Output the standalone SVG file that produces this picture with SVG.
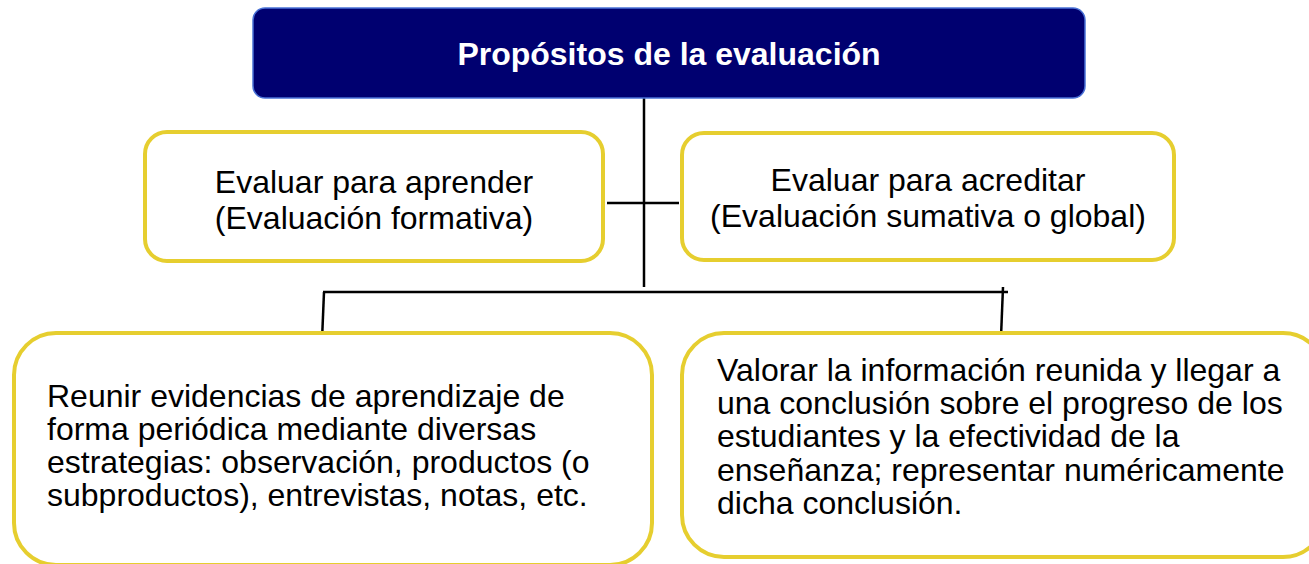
<svg xmlns="http://www.w3.org/2000/svg" width="1309" height="564" viewBox="0 0 1309 564">
  <style>
    .box { fill: #ffffff; stroke: #E6CE2F; stroke-width: 4; }
    .top { fill: #000070; stroke: #4A72D6; stroke-width: 1.5; }
    .t { font-family: "Liberation Sans", Arial, sans-serif; font-size: 32px; fill: #000000; }
    .c { text-anchor: middle; }
    .title { font-family: "Liberation Sans", Arial, sans-serif; font-size: 32px; font-weight: bold; fill: #ffffff; text-anchor: middle; }
    .conn { stroke: #000000; stroke-width: 2.5; fill: none; }
  </style>
  <rect width="1309" height="564" fill="#ffffff"/>
  <g id="connectors">
    <line class="conn" x1="644" y1="98" x2="644" y2="287"/>
    <line class="conn" x1="607" y1="203" x2="679" y2="203"/>
    <line class="conn" x1="323" y1="292" x2="1008" y2="292"/>
    <line class="conn" x1="324" y1="292" x2="322" y2="340"/>
    <line class="conn" x1="1003" y1="287" x2="1001" y2="337"/>
  </g>
  <g id="node-top">
    <rect class="top" x="253" y="8" width="832" height="90" rx="12"/>
    <text class="title" x="669" y="65">Propósitos de la evaluación</text>
  </g>
  <g id="node-aprender">
    <rect class="box" x="145" y="132" width="458" height="129" rx="22"/>
    <text class="t c" x="374" y="193">Evaluar para aprender</text>
    <text class="t c" x="374" y="229">(Evaluación formativa)</text>
  </g>
  <g id="node-acreditar">
    <rect class="box" x="682" y="133" width="492" height="127" rx="22"/>
    <text class="t c" x="928" y="191">Evaluar para acreditar</text>
    <text class="t c" x="928" y="227">(Evaluación sumativa o global)</text>
  </g>
  <g id="node-reunir">
    <rect class="box" x="14" y="333" width="638" height="232" rx="42"/>
    <text class="t" x="47" y="407">Reunir evidencias de aprendizaje de</text>
    <text class="t" x="47" y="440">forma periódica mediante diversas</text>
    <text class="t" x="47" y="473">estrategias: observación, productos (o</text>
    <text class="t" x="47" y="506">subproductos), entrevistas, notas, etc.</text>
  </g>
  <g id="node-valorar">
    <rect class="box" x="682" y="333" width="643" height="224" rx="42"/>
    <text class="t" x="717" y="381">Valorar la información reunida y llegar a</text>
    <text class="t" x="717" y="414">una conclusión sobre el progreso de los</text>
    <text class="t" x="717" y="447">estudiantes y la efectividad de la</text>
    <text class="t" x="717" y="481">enseñanza; representar numéricamente</text>
    <text class="t" x="717" y="514">dicha conclusión.</text>
  </g>
</svg>
